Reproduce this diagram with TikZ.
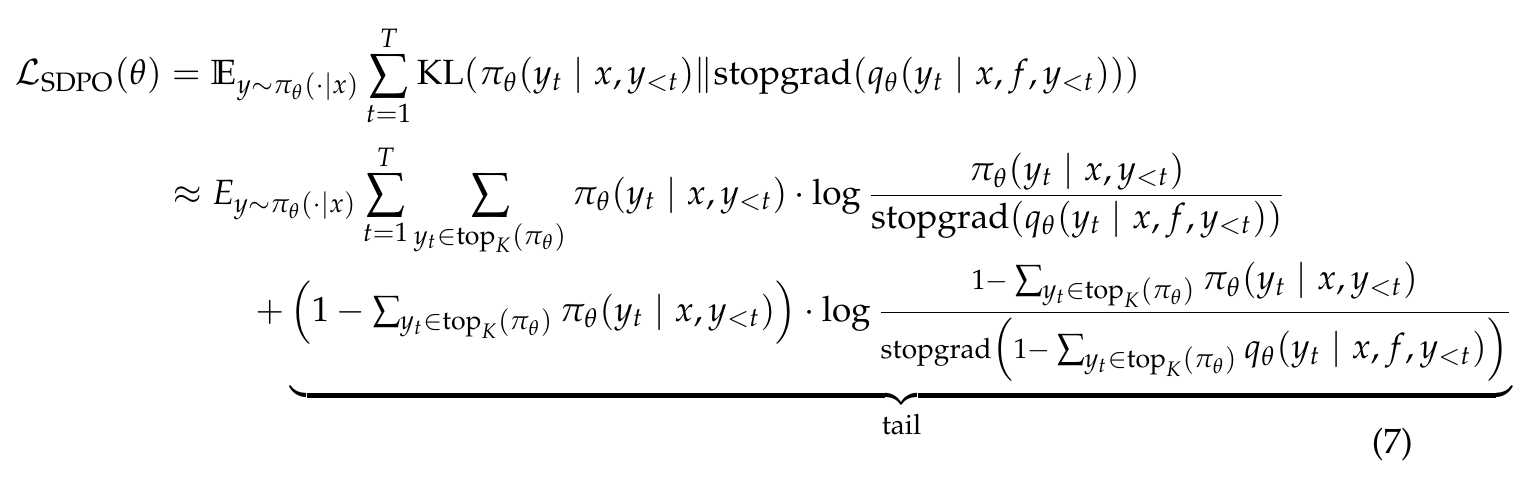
\documentclass[tikz,border=0pt]{standalone}
\usepackage[T1]{fontenc}
\usepackage{amsmath}
\usepackage{mathpazo}
\usepackage{amssymb}
\newcommand{\sgtxt}{\text{stopgrad}}
\newcommand{\topK}{\mathrm{top}_K(\pi_\theta)}
\newcommand{\smallone}{\mbox{\footnotesize$1-$}}
\tikzset{eqnode/.style={inner sep=0pt, outer sep=0pt}}
\begin{document}
\begin{tikzpicture}
\useasboundingbox (0,0) rectangle (436.7pt,-136.5pt);
\node[eqnode, anchor=base west] (line1) at (4.28pt,-24.26pt) {$\displaystyle
\mathcal{L}_{\mathrm{SDPO}}(\theta) = \mathbb{E}_{y\sim\pi_\theta(\cdot|x)} \sum_{t=1}^{T} \mathrm{KL}(\pi_\theta(y_t \mid x, y_{<t}) \| \sgtxt(q_\theta(y_t\mid x,f,y_{<t})))$};
\node[eqnode, anchor=base west] (line2) at (49.39pt,-58.24pt) {$\displaystyle
\approx E_{y\sim\pi_\theta(\cdot|x)} \sum_{t=1}^{T} \sum_{y_t\in\topK} \pi_\theta(y_t\mid x,y_{<t})\cdot\log\frac{\pi_\theta(y_t\mid x,y_{<t})}{\sgtxt(q_\theta(y_t\mid x,f,y_{<t}))}$};
\node[eqnode, anchor=base west] (line3) at (72.8pt,-91.64pt) {$\displaystyle
+ \underbrace{\Bigl(1-\mathop{\textstyle\sum}\nolimits_{y_t\in\topK}\pi_\theta(y_t\mid x,y_{<t})\Bigr)\cdot\log\frac{\smallone\sum_{y_t\in\topK}\pi_\theta(y_t\mid x,y_{<t})}{\text{\footnotesize stopgrad}\Bigl(\smallone\sum_{y_t\in\topK} q_\theta(y_t\mid x,f,y_{<t})\Bigr)}}_{\text{\footnotesize tail}}$};
\node[eqnode] (num) at (397.4pt,-126.75pt) {(7)};
\end{tikzpicture}
\end{document}
